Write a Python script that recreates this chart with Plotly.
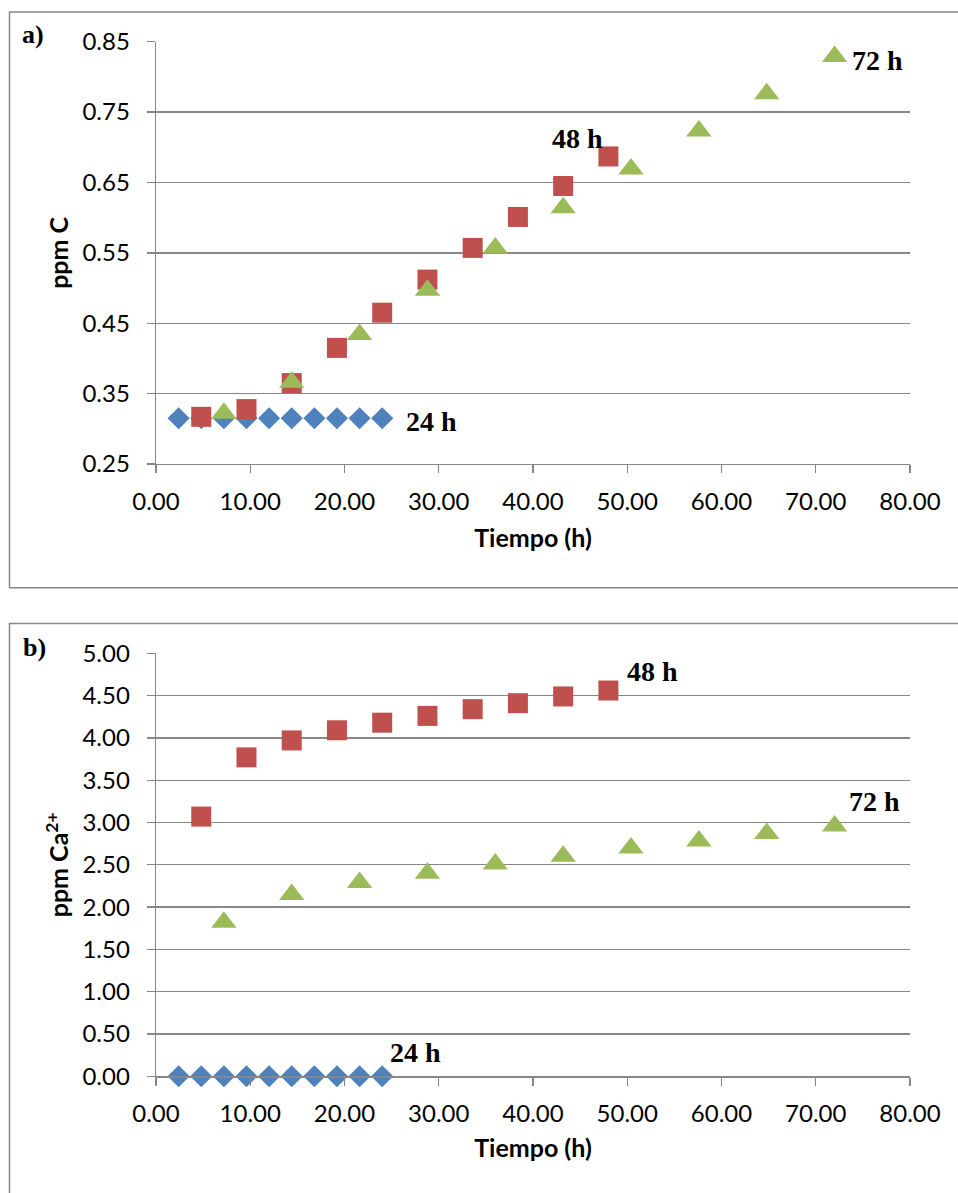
import plotly.graph_objects as go

# ---------------- data ----------------
t24 = [2.4, 4.8, 7.2, 9.6, 12.0, 14.4, 16.8, 19.2, 21.6, 24.0]
t48 = [4.8, 9.6, 14.4, 19.2, 24.0, 28.8, 33.6, 38.4, 43.2, 48.0]
t72 = [7.2, 14.4, 21.6, 28.8, 36.0, 43.2, 50.4, 57.6, 64.8, 72.0]

c24 = [0.315, 0.315, 0.315, 0.315, 0.315, 0.315, 0.315, 0.315, 0.315, 0.315]
c48 = [0.317, 0.328, 0.365, 0.415, 0.465, 0.512, 0.557, 0.601, 0.645, 0.687]
c72 = [0.322, 0.366, 0.434, 0.497, 0.557, 0.614, 0.669, 0.723, 0.776, 0.829]

ca24 = [0.0, 0.0, 0.0, 0.0, 0.0, 0.0, 0.0, 0.0, 0.0, 0.0]
ca48 = [3.07, 3.77, 3.97, 4.09, 4.18, 4.26, 4.34, 4.41, 4.49, 4.56]
ca72 = [1.82, 2.15, 2.29, 2.40, 2.51, 2.60, 2.70, 2.78, 2.87, 2.96]

series_labels = ["24 h", "48 h", "72 h"]
x_ticks = [0, 10, 20, 30, 40, 50, 60, 70, 80]
ya_ticks = [0.25, 0.35, 0.45, 0.55, 0.65, 0.75, 0.85]
yb_ticks = [0.0, 0.5, 1.0, 1.5, 2.0, 2.5, 3.0, 3.5, 4.0, 4.5, 5.0]

# ---------------- styles ----------------
BLUE, RED, GREEN = "#4F81BD", "#C0504D", "#9BBB59"
GRAY = "#878787"
W, H = 958, 1193
TICKFONT = dict(family="Lato, Open Sans, sans-serif", size=24, color="#000000")
TITLEFONT = dict(family="Lato, Open Sans, sans-serif", size=25, color="#000000", weight="bold")
LBLFONT = dict(family="Liberation Serif, Times New Roman, serif", size=28, color="#000000", weight="bold")

fig = go.Figure()

def add_panel(xa, ya, ys):
    specs = [(t24, ys[0], BLUE, "diamond", 17),
             (t48, ys[1], RED, "square", 20),
             (t72, ys[2], GREEN, "triangle-up", 22)]
    for (xs, yv, col, sym, sz), name in zip(specs, series_labels):
        fig.add_trace(go.Scatter(
            x=xs, y=yv, mode="markers", name=name, xaxis=xa, yaxis=ya,
            marker=dict(symbol=sym, size=sz, color=col, line=dict(width=0)),
            cliponaxis=False, showlegend=False, hoverinfo="skip"))

add_panel("x", "y", [c24, c48, c72])
add_panel("x2", "y2", [ca24, ca48, ca72])

x0p, x1p = 156 / W, 910 / W
dom_a = [1 - 464 / H, 1 - 41.7 / H]
dom_b = [1 - 1076.3 / H, 1 - 653.3 / H]

xcommon = dict(range=[0, 80], tickvals=x_ticks, tickformat=".2f",
               showline=True, linecolor=GRAY, linewidth=1.3, ticks="outside",
               ticklen=8, tickwidth=1.3, tickcolor=GRAY, showgrid=False,
               zeroline=False, tickfont=TICKFONT, ticklabelstandoff=8,
               domain=[x0p, x1p], fixedrange=True, automargin=False)
ycommon = dict(tickformat=".2f", showline=True, linecolor=GRAY, linewidth=1.3,
               ticks="outside", ticklen=8, tickwidth=1.3, tickcolor=GRAY,
               showgrid=True, gridcolor=GRAY, gridwidth=1.3, zeroline=False,
               tickfont=TICKFONT, ticklabelstandoff=12, fixedrange=True,
               automargin=False)

fig.update_layout(
    width=W, height=H, autosize=False,
    margin=dict(l=0, r=0, t=0, b=0, pad=0),
    paper_bgcolor="white", plot_bgcolor="white",
    xaxis=dict(xcommon, anchor="y",
               title=dict(text="Tiempo (h)", font=TITLEFONT, standoff=15)),
    yaxis=dict(ycommon, anchor="x", domain=dom_a, range=[0.25, 0.85], tickvals=ya_ticks,
               title=dict(text="ppm C", font=TITLEFONT, standoff=6)),
    xaxis2=dict(xcommon, anchor="y2",
                title=dict(text="Tiempo (h)", font=TITLEFONT, standoff=13)),
    yaxis2=dict(ycommon, anchor="x2", domain=dom_b, range=[0, 5], tickvals=yb_ticks,
                title=dict(text="ppm Ca<sup>2+</sup>", font=TITLEFONT, standoff=6)),
)

# outer frames
fig.add_shape(type="rect", xref="paper", yref="paper",
              x0=9.5 / W, x1=1.01, y0=1 - 587.7 / H, y1=1 - 12 / H,
              line=dict(color=GRAY, width=1.5), fillcolor="rgba(0,0,0,0)", layer="below")
fig.add_shape(type="rect", xref="paper", yref="paper",
              x0=9.5 / W, x1=1.01, y0=-0.01, y1=1 - 623.5 / H,
              line=dict(color=GRAY, width=1.5), fillcolor="rgba(0,0,0,0)", layer="below")

# panel letters
fig.add_annotation(text="a)", xref="paper", yref="paper", x=33 / W, y=1 - 35 / H,
                   showarrow=False, font=dict(LBLFONT, size=26), xanchor="center", yanchor="middle")
fig.add_annotation(text="b)", xref="paper", yref="paper", x=34 / W, y=1 - 647 / H,
                   showarrow=False, font=dict(LBLFONT, size=26), xanchor="center", yanchor="middle")

# series labels (placed next to each series' final point)
def label(xa, ya, txt, xv, yv):
    fig.add_annotation(text=txt, xref=xa, yref=ya, x=xv, y=yv, showarrow=False,
                       font=LBLFONT, xanchor="center", yanchor="middle")

label("x", "y", series_labels[0], t24[-1] + 5.2, c24[-1] - 0.005)
label("x", "y", series_labels[1], t48[-1] - 3.3, c48[-1] + 0.026)
label("x", "y", series_labels[2], t72[-1] + 4.55, c72[-1] - 0.006)
label("x2", "y2", series_labels[1], t48[-1] + 4.7, ca48[-1] + 0.22)
label("x2", "y2", series_labels[2], t72[-1] + 4.2, ca72[-1] + 0.29)
label("x2", "y2", series_labels[0], t24[-1] + 3.5, ca24[-1] + 0.28)

fig.write_html("out.html", config={"displayModeBar": False, "staticPlot": True},
               post_script="document.body.style.margin='0px';document.body.style.overflow='hidden';")
